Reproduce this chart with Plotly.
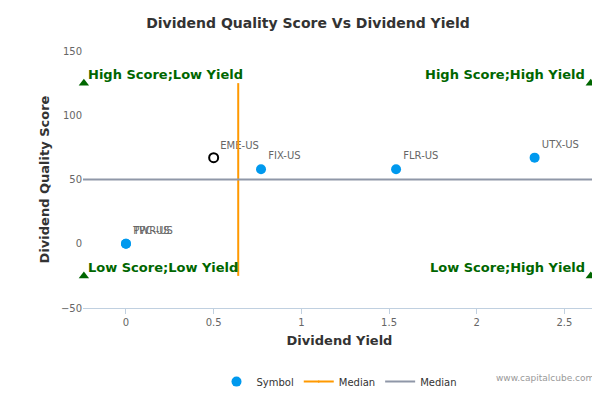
import plotly.graph_objects as go

symbols = ['PWR-US', 'TPC-US', 'FIX-US', 'FLR-US', 'UTX-US']
div_yield = [0.0, 0.0, 0.77, 1.54, 2.33]
quality = [0, 0, 58, 58, 67]

focus_symbol = ['EME-US']
focus_yield = [0.5]
focus_quality = [67]

median_yield = 0.64
median_score = 50
x_range = [-0.245, 2.68]
y_range = [-50, 150]

corner_x = [-0.24, 2.65, -0.24, 2.65]
corner_y = [125, 125, -25, -25]
corner_text = ['High Score;Low Yield', 'High Score;High Yield',
               'Low Score;Low Yield', 'Low Score;High Yield']

GREEN = '#006600'

fig = go.Figure()
fig.add_trace(go.Scatter(
    x=div_yield, y=quality, mode='markers+text', text=symbols,
    textposition='top right', textfont=dict(color='#666666', size=10),
    marker=dict(color='#0099ee', size=10), name='Symbol'))
fig.add_trace(go.Scatter(
    x=focus_yield, y=focus_quality, mode='markers+text', text=focus_symbol,
    textposition='top right', textfont=dict(color='#666666', size=10),
    marker=dict(color='white', size=9, line=dict(color='black', width=2)),
    showlegend=False))
fig.add_trace(go.Scatter(
    x=[median_yield, median_yield], y=[-25, 125], mode='lines+markers',
    line=dict(color='#ff9900', width=2), name='Median',
    marker=dict(symbol='diamond', size=0.1)))
fig.add_trace(go.Scatter(
    x=x_range, y=[median_score, median_score], mode='lines',
    line=dict(color='#8f97a8', width=2), name='Median'))
fig.add_trace(go.Scatter(
    x=corner_x, y=corner_y, mode='markers', cliponaxis=False,
    marker=dict(symbol='triangle-up', color=GREEN, size=9),
    showlegend=False, hoverinfo='skip'))

for x, y, t in zip(corner_x, corner_y, corner_text):
    left = x < 0
    fig.add_annotation(x=x, y=y, text='<b>' + t + '</b>', showarrow=False,
                       xanchor='left' if left else 'right', yanchor='bottom',
                       xshift=2 if left else -4, yshift=-1,
                       font=dict(color=GREEN, size=13))

fig.add_annotation(x=1, y=-0.3, xref='paper', yref='paper', text='www.capitalcube.com',
                   showarrow=False, xanchor='right', font=dict(color='#999999', size=9))

fig.update_layout(
    width=600, height=400,
    font=dict(family='DejaVu Sans', color='#333333'),
    title=dict(text='<b>Dividend Quality Score Vs Dividend Yield</b>', x=0.5, y=0.975,
               font=dict(size=14, color='#333333')),
    plot_bgcolor='white', paper_bgcolor='white',
    margin=dict(l=75, r=12, t=43, b=93),
    xaxis=dict(range=x_range, showgrid=False, zeroline=False, showline=True,
               linecolor='#c0d0e0', ticks='outside', tickcolor='#c0d0e0',
               dtick=0.5, tickfont=dict(size=10, color='#666666'), automargin=False,
               title=dict(text='<b>Dividend Yield</b>', standoff=8,
                          font=dict(size=13, color='#333333'))),
    yaxis=dict(range=y_range, showgrid=False, zeroline=False, dtick=50,
               tickfont=dict(size=10, color='#666666'), automargin=False,
               title=dict(text='<b>Dividend Quality Score</b>', standoff=8,
                          font=dict(size=13, color='#333333'))),
    legend=dict(orientation='h', x=0.5, xanchor='center', y=-0.23, yanchor='top',
                font=dict(size=10, color='#333333')),
)

fig.write_html("out.html")
